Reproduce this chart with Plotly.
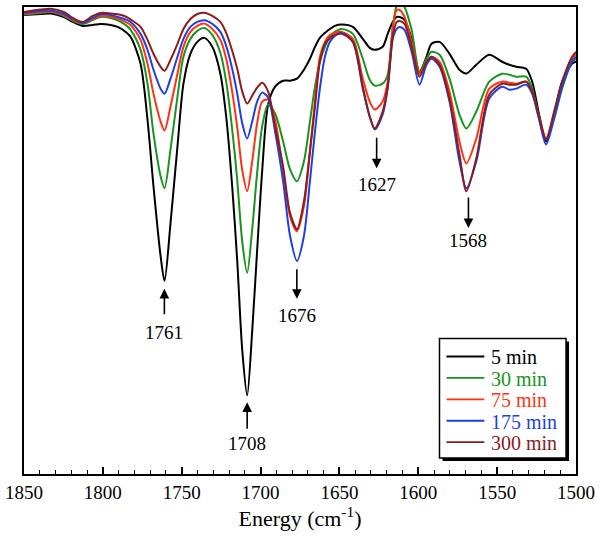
import plotly.graph_objects as go

wavenumber = [1850, 1839.3, 1832.9, 1824.7, 1819.0, 1812.7, 1806.4, 1801.4, 1795.0, 1790.6,
              1785.6, 1782.4, 1776.1, 1771.7, 1767.9, 1763.4, 1760.9, 1757.1, 1752.7, 1748.9,
              1744.5, 1740.1, 1735.7, 1730.6, 1725.5, 1721.8, 1718.0, 1714.8, 1711.6, 1708.5,
              1705.3, 1702.2, 1699.0, 1695.2, 1690.8, 1685.7, 1681.3, 1676.9, 1672.5, 1668.7,
              1665.5, 1662.4, 1659.2, 1656.0, 1652.9, 1648.5, 1641.5, 1635.2, 1630.8, 1627.6,
              1622.6, 1619.4, 1616.2, 1613.7, 1611.8, 1608.7, 1604.2, 1599.2, 1594.8, 1591.6,
              1586.5, 1580.2, 1573.9, 1569.5, 1563.2, 1555.0, 1546.8, 1542.3, 1537.9, 1531.6,
              1527.8, 1523.4, 1519.0, 1513.9, 1508.8, 1502.5, 1500]

t_5min = [461, 462, 462.5, 459, 454, 450, 451, 452, 451, 449,
          444, 439, 412, 356, 289, 219, 194, 252, 329, 392,
          422, 434, 438, 429, 402, 359, 289, 214, 124, 79,
          144, 224, 304, 371, 389, 395, 395, 397, 406, 417,
          429, 438, 443, 447, 450, 451.3, 449, 437, 428, 426,
          429, 442, 454, 459, 459, 456, 437, 404, 419, 432,
          434, 422, 406, 402.3, 411, 421, 414, 411, 409, 407,
          394, 361, 334, 361, 394, 412, 414]

t_30min = [461.5, 463, 464, 460, 455, 452, 456, 459, 458, 455.5,
           451, 446, 426, 392, 342, 299, 287, 326, 379, 419,
           437, 445, 448, 441, 423, 394, 346, 295, 233, 202,
           246, 302, 349, 371, 362, 334, 306, 294, 314, 354,
           389, 414, 429, 439, 444, 447, 442, 417, 396, 390,
           392, 401, 449, 471, 476, 469, 446, 404, 417, 424,
           421, 397, 361, 347, 364, 394, 402, 401, 399, 399,
           387, 357, 336, 357, 387, 414, 417]

t_75min = [462, 464, 464.5, 461, 456, 453, 457, 460, 459.5, 457.3,
           454, 451, 436, 412, 382, 354, 345, 369, 402, 429,
           444, 450, 452.3, 447, 436, 417, 384, 348, 305, 284,
           314, 352, 374, 376, 356, 304, 259, 244, 269, 324,
           374, 419, 434, 441, 443, 444, 437, 397, 374, 366,
           374, 394, 447, 466, 466, 459, 434, 402, 414, 419,
           414, 384, 334, 312, 337, 387, 394, 393, 392, 394,
           384, 359, 337, 361, 391, 416, 422]

t_175min = [463, 465, 465.5, 462, 457, 453, 458, 461.7, 461, 459,
            456.5, 454, 442, 426, 406, 387, 382, 397, 419, 437,
            449, 454, 455.7, 452, 444, 430, 407, 382, 352, 337,
            354, 374, 383, 378, 344, 294, 239, 214, 239, 294,
            344, 387, 419, 434, 440, 443, 434, 387, 359, 346,
            361, 387, 437, 447, 449, 446, 424, 391, 411, 417,
            409, 374, 314, 287, 314, 377, 389, 386, 387, 391,
            382, 356, 331, 357, 389, 414, 419]

t_300min = [464, 466.5, 467.3, 464, 458, 454, 460, 463, 462.5, 461.7,
            459.5, 456.5, 449, 436, 422, 409, 405, 416, 432, 447,
            457, 462, 463.3, 460, 454, 443, 425, 407, 384, 372,
            380, 388, 393, 384, 349, 309, 262, 246, 274, 324,
            369, 414, 432, 438, 441, 442, 434, 389, 359, 347,
            364, 389, 439, 454, 455, 452, 429, 399, 414, 419,
            411, 377, 321, 284, 317, 381, 392, 391, 391, 394,
            384, 359, 336, 364, 394, 419, 424]

series_names = ["5 min", "30 min", "75 min", "175 min", "300 min"]
series_values = [t_5min, t_30min, t_75min, t_175min, t_300min]
series_colors = ["#000000", "#17951f", "#ff3311", "#1f3fe6", "#8b1d1d"]

peak_labels = ["1761", "1708", "1676", "1627", "1568"]
peak_positions = [1761, 1708.5, 1677, 1626.4, 1568.2]

FONT = "Liberation Serif"

# plot-area geometry in pixels (for legend/decoration placement)
W, H = 600, 538
L, R, T, B = 23, 23, 5, 64
PW, PH = W - L - R, H - T - B


def px(x):
    return (x - L) / PW


def py(y):
    return (H - B - y) / PH


fig = go.Figure()
for name, vals, col in zip(series_names, series_values, series_colors):
    fig.add_trace(go.Scatter(
        x=wavenumber, y=vals, mode="lines", name=name,
        line=dict(color=col, width=2, shape="spline", smoothing=0.8),
    ))

# arrows: (tip value, tail pixel offset, text value)
arrow_specs = [
    (186, 27, 142),
    (72, 28, 31),
    (176, -31, 159),
    (307, -32, 291),
    (247, -32, 235),
]
for lab, xp, (tip, ay, ty) in zip(peak_labels, peak_positions, arrow_specs):
    fig.add_annotation(x=xp, y=tip, ax=0, ay=ay, text="", showarrow=True,
                       arrowhead=2, arrowsize=1.2, arrowwidth=1.6, arrowcolor="black")
    fig.add_annotation(x=xp, y=ty, text=lab, showarrow=False,
                       font=dict(family=FONT, size=19, color="black"))

# custom legend box with drop shadow
fig.add_shape(type="rect", xref="paper", yref="paper",
              x0=px(443), x1=px(570), y0=py(461), y1=py(341),
              fillcolor="black", line=dict(width=0), layer="above")
fig.add_shape(type="rect", xref="paper", yref="paper",
              x0=px(440), x1=px(567), y0=py(458), y1=py(338),
              fillcolor="white", line=dict(color="black", width=1.5), layer="above")
row_y = [356, 377.5, 399, 420.5, 442]
for name, col, ry in zip(series_names, series_colors, row_y):
    fig.add_shape(type="line", xref="paper", yref="paper",
                  x0=px(447), x1=px(485), y0=py(ry), y1=py(ry),
                  line=dict(color=col, width=1.8), layer="above")
    fig.add_annotation(xref="paper", yref="paper", x=px(490), y=py(ry + 1),
                       xanchor="left", yanchor="middle", text=name, showarrow=False,
                       font=dict(family=FONT, size=20, color=col))

fig.update_layout(
    width=W, height=H,
    margin=dict(l=L, r=R, t=T, b=B),
    paper_bgcolor="white", plot_bgcolor="white",
    font=dict(family=FONT, size=19, color="black"),
    showlegend=False,
    xaxis=dict(range=[1850, 1500], dtick=50, tick0=1500, ticks="inside", ticklen=7, tickwidth=1.5,
               tickcolor="black", showline=True, linecolor="black", linewidth=1.5, mirror=True,
               showgrid=False, zeroline=False,
               minor=dict(dtick=10, ticks="inside", ticklen=4, tickwidth=1.2, tickcolor="black", showgrid=False),
               title=dict(text="Energy (cm<sup>-1</sup>)", font=dict(family=FONT, size=22), standoff=6),
               tickfont=dict(family=FONT, size=19)),
    yaxis=dict(range=[0, 469], showticklabels=False, ticks="", showline=True, linecolor="black",
               linewidth=1.5, mirror=True, showgrid=False, zeroline=False),
)

fig.write_html("out.html", config={"displayModeBar": False},
               post_script="document.body.style.margin='0';")
